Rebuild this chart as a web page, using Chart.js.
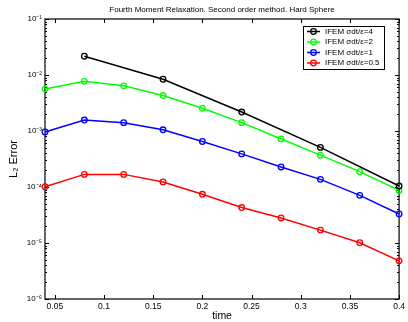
<!DOCTYPE html>
<html>
<head>
<meta charset="utf-8">
<script src="https://cdn.jsdelivr.net/npm/chart.js@4/dist/chart.umd.min.js"></script>
<style>
  html, body { margin: 0; padding: 0; background: #fff; }
  #wrap { width: 408px; height: 322px; }
</style>
</head>
<body>
<div id="wrap"><canvas id="chart"></canvas></div>
<script>
// datos (L2 error vs time)
const times       = [0.04, 0.08, 0.12, 0.16, 0.20, 0.24, 0.28, 0.32, 0.36, 0.40];
const timesCoarse = [0.08, 0.16, 0.24, 0.32, 0.40];

const errSigma4  = [2.16e-2, 8.4e-3, 2.18e-3, 5.1e-4, 1.04e-4];
const errSigma2  = [5.6e-3, 7.7e-3, 6.4e-3, 4.3e-3, 2.54e-3, 1.41e-3, 7.2e-4, 3.7e-4, 1.88e-4, 8.7e-5];
const errSigma1  = [9.6e-4, 1.57e-3, 1.41e-3, 1.05e-3, 6.5e-4, 3.9e-4, 2.28e-4, 1.37e-4, 7.1e-5, 3.3e-5];
const errSigma05 = [1.01e-4, 1.68e-4, 1.68e-4, 1.23e-4, 7.4e-5, 4.3e-5, 2.8e-5, 1.7e-5, 1.01e-5, 4.8e-6];

const seriesLabels = ['IFEM σdt/ε=4', 'IFEM σdt/ε=2', 'IFEM σdt/ε=1', 'IFEM σdt/ε=0.5'];
const seriesColors = ['#000000', '#00ff00', '#0000ff', '#ff0000'];

const xTicks      = [0.05, 0.10, 0.15, 0.20, 0.25, 0.30, 0.35, 0.40];
const xTickLabels = ['0.05', '0.1', '0.15', '0.2', '0.25', '0.3', '0.35', '0.4'];
const yDecades    = [1e-6, 1e-5, 1e-4, 1e-3, 1e-2, 1e-1];
const yTickLabels = ['10⁻⁶', '10⁻⁵', '10⁻⁴', '10⁻³', '10⁻²', '10⁻¹'];

const FONT = '"Liberation Sans", Arial, Helvetica, sans-serif';

const pts = (xs, ys) => xs.map((x, i) => ({ x, y: ys[i] }));

function series(i, xs, ys) {
  return {
    label:            seriesLabels[i],
    data:             pts(xs, ys),
    borderColor:      seriesColors[i],
    backgroundColor:  'rgba(0,0,0,0)',
    borderWidth:      1.5,
    pointRadius:      2.8,
    pointBorderWidth: 1.3,
    pointBackgroundColor: 'rgba(0,0,0,0)',
    pointBorderColor: seriesColors[i],
    tension:          0,
    clip:             false,
  };
}

// ejes estilo matlab: caja y marcas hacia dentro
const matlabAxes = {
  id: 'matlabAxes',
  beforeDatasetsDraw(chart) {
    const { ctx, chartArea: a, scales: { x, y } } = chart;
    ctx.save();
    ctx.strokeStyle = '#000';
    ctx.lineWidth = 1;
    ctx.beginPath();
    xTicks.forEach(v => {
      const px = Math.round(x.getPixelForValue(v)) + 0.5;
      ctx.moveTo(px, a.bottom); ctx.lineTo(px, a.bottom - 4);
      ctx.moveTo(px, a.top);    ctx.lineTo(px, a.top + 4);
    });
    yDecades.forEach((d, k) => {
      const py = Math.round(y.getPixelForValue(d)) + 0.5;
      ctx.moveTo(a.left, py);  ctx.lineTo(a.left + 4, py);
      ctx.moveTo(a.right, py); ctx.lineTo(a.right - 4, py);
      if (k === yDecades.length - 1) return;
      for (let m = 2; m <= 9; m++) {
        const pm = Math.round(y.getPixelForValue(d * m)) + 0.5;
        ctx.moveTo(a.left, pm);  ctx.lineTo(a.left + 2, pm);
        ctx.moveTo(a.right, pm); ctx.lineTo(a.right - 2, pm);
      }
    });
    ctx.stroke();
    ctx.lineWidth = 1.2;
    ctx.strokeRect(a.left, a.top, a.right - a.left, a.bottom - a.top);
    ctx.restore();
  },
};

// leyenda con recuadro dentro del área
const boxLegend = {
  id: 'boxLegend',
  afterDraw(chart) {
    const { ctx } = chart;
    const x0 = 303, y0 = 26, w = 81, h = 43;
    ctx.save();
    ctx.fillStyle = '#fff';
    ctx.fillRect(x0, y0, w, h);
    ctx.strokeStyle = '#000';
    ctx.lineWidth = 1;
    ctx.strokeRect(x0 + 0.5, y0 + 0.5, w, h);
    ctx.font = '8px ' + FONT;
    ctx.textBaseline = 'middle';
    chart.data.datasets.forEach((ds, i) => {
      const yy = y0 + 5.5 + i * 10.5;
      ctx.strokeStyle = ds.borderColor;
      ctx.lineWidth = 1.5;
      ctx.beginPath();
      ctx.moveTo(307, yy); ctx.lineTo(320, yy);
      ctx.stroke();
      ctx.lineWidth = 1.3;
      ctx.beginPath();
      ctx.arc(313.5, yy, 2.8, 0, Math.PI * 2);
      ctx.stroke();
      ctx.fillStyle = '#000';
      ctx.fillText(ds.label, 325, yy);
    });
    ctx.restore();
  },
};

new Chart(document.getElementById('chart'), {
  type: 'line',
  data: {
    datasets: [
      series(0, timesCoarse, errSigma4),
      series(1, times, errSigma2),
      series(2, times, errSigma1),
      series(3, times, errSigma05),
    ],
  },
  options: {
    responsive:          true,
    maintainAspectRatio: false,
    animation:           false,
    layout: { padding: { left: 0, right: 5, top: 0, bottom: 0 } },
    plugins: {
      legend:  { display: false },
      tooltip: { enabled: false },
      title: {
        display:  true,
        text:     'Fourth Moment Relaxation. Second order method. Hard Sphere',
        fullSize: false,
        color:    '#000',
        font:     { family: FONT, size: 8, weight: 'normal', lineHeight: 1.25 },
        padding:  { top: 5, bottom: 4 },
      },
    },
    scales: {
      x: {
        type: 'linear',
        min:  0.04,
        max:  0.4,
        afterFit: s => { s.height = 23; },
        afterBuildTicks: s => { s.ticks = xTicks.map(v => ({ value: v })); },
        ticks: {
          autoSkip: false,
          maxRotation: 0,
          padding: 3,
          color: '#000',
          font: { family: FONT, size: 8.5 },
          callback: (v) => xTickLabels[xTicks.findIndex(t => Math.abs(t - v) < 1e-9)] ?? '',
        },
        grid:   { display: false, drawTicks: false },
        border: { display: false },
        title: {
          display: true,
          text:    'time',
          color:   '#000',
          font:    { family: FONT, size: 10.5 },
          padding: { top: 0, bottom: 0 },
        },
      },
      y: {
        type: 'logarithmic',
        min:  1e-6,
        max:  1e-1,
        afterFit: s => { s.width = 45; },
        afterBuildTicks: s => { s.ticks = yDecades.map(v => ({ value: v })); },
        ticks: {
          autoSkip: false,
          padding: 3,
          color: '#000',
          font: { family: FONT, size: 8 },
          callback: (v) => yTickLabels[yDecades.findIndex(d => Math.abs(Math.log10(d) - Math.log10(v)) < 1e-6)] ?? '',
        },
        grid:   { display: false, drawTicks: false },
        border: { display: false },
        title: {
          display: true,
          text:    'L₂ Error',
          color:   '#000',
          font:    { family: FONT, size: 11 },
          padding: { top: 7, bottom: 0 },
        },
      },
    },
  },
  plugins: [matlabAxes, boxLegend],
});
</script>
</body>
</html>
